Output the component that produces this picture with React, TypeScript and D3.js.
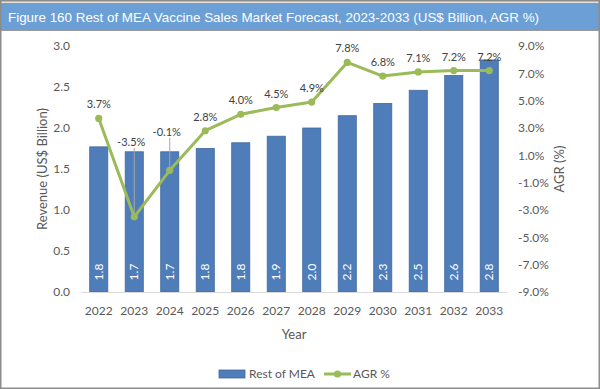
import React, { useEffect, useRef } from 'react';
import * as d3 from 'd3';

const years = ['2022', '2023', '2024', '2025', '2026', '2027', '2028', '2029', '2030', '2031', '2032', '2033'];
const revenue = [1.77, 1.71, 1.71, 1.75, 1.82, 1.9, 2.0, 2.15, 2.3, 2.46, 2.64, 2.83];
const revenueLabels = ['1.8', '1.7', '1.7', '1.8', '1.8', '1.9', '2.0', '2.2', '2.3', '2.5', '2.6', '2.8'];
const agr = [3.7, -3.5, -0.1, 2.8, 4.0, 4.5, 4.9, 7.8, 6.8, 7.1, 7.2, 7.2];
const leftTicks = [0, 0.5, 1, 1.5, 2, 2.5, 3];
const rightTicks = [-9, -7, -5, -3, -1, 1, 3, 5, 7, 9];

// labels pulled up with a leader line (Excel style)
const leaderLabelY: Record<string, number> = { '2023': 142, '2024': 132 };

const W = 600, H = 389;
const FONT = 'Lato, "Open Sans", sans-serif';
const BAR = '#4f7dba';
const LINE = '#9bbb59';
const TEXT = '#595959';

const pct = (d: number) => d.toFixed(1) + '%';

const App = () => {
  const ref = useRef<SVGSVGElement>(null);

  useEffect(() => {
    const svg = d3.select(ref.current);
    svg.selectAll('*').remove();

    const plot = { left: 81, right: 507, top: 46, bottom: 292 };

    const x = d3.scaleBand()
      .domain(years)
      .range([plot.left, plot.right])
      .paddingInner(0.49)
      .paddingOuter(0.245);

    const y = d3.scaleLinear().domain([0, 3]).range([plot.bottom, plot.top]);
    const y2 = d3.scaleLinear().domain([-9, 9]).range([plot.bottom, plot.top]);

    // frame and title bar
    svg.append('rect')
      .attr('x', 0).attr('y', 0).attr('width', W).attr('height', H)
      .attr('fill', '#fff');
    svg.append('rect')
      .attr('x', 0).attr('y', 0).attr('width', W).attr('height', 3)
      .attr('fill', '#e6e2da');
    svg.append('rect')
      .attr('x', 0).attr('y', 3).attr('width', W).attr('height', 27)
      .attr('fill', '#6b9fd6');
    svg.append('line')
      .attr('x1', 0).attr('x2', W).attr('y1', 30.5).attr('y2', 30.5)
      .attr('stroke', '#9a9a9a');
    svg.append('rect')
      .attr('x', 0.75).attr('y', 0.75).attr('width', W - 1.5).attr('height', H - 1.5)
      .attr('fill', 'none').attr('stroke', '#8c8c8c').attr('stroke-width', 1.5);
    svg.append('text')
      .attr('x', 8).attr('y', 22)
      .attr('fill', '#fff')
      .attr('font-family', '"Liberation Sans", Arial, sans-serif')
      .attr('font-size', 13.5)
      .attr('textLength', 531)
      .attr('lengthAdjust', 'spacingAndGlyphs')
      .text('Figure 160 Rest of MEA Vaccine Sales Market Forecast, 2023-2033 (US$ Billion, AGR %)');

    // bars
    svg.append('g')
      .selectAll('rect')
      .data(revenue)
      .join('rect')
        .attr('x', (d, i) => x(years[i])!)
        .attr('y', d => y(d))
        .attr('width', x.bandwidth())
        .attr('height', d => y(0) - y(d))
        .attr('fill', BAR)
        .attr('stroke', '#41699f')
        .attr('stroke-width', 0.8);

    svg.append('g')
      .selectAll('text')
      .data(revenueLabels)
      .join('text')
        .attr('transform', (d, i) => `translate(${x(years[i])! + x.bandwidth() / 2 + 4},${272}) rotate(-90)`)
        .attr('text-anchor', 'middle')
        .attr('fill', '#fff')
        .attr('font-family', FONT)
        .attr('font-size', 12)
        .text(d => d);

    // x axis
    const xAxis = svg.append('g')
      .attr('transform', `translate(0,${plot.bottom})`)
      .call(d3.axisBottom(x).tickSize(0).tickPadding(14));
    xAxis.select('.domain').attr('stroke', '#d9d9d9');
    xAxis.selectAll('text').attr('fill', TEXT).attr('font-family', FONT).attr('font-size', 12);

    const yAxis = svg.append('g')
      .attr('transform', `translate(70,0)`)
      .call(d3.axisLeft(y).tickValues(leftTicks).tickFormat(d3.format('.1f')).tickSize(0).tickPadding(0));
    yAxis.select('.domain').remove();
    yAxis.selectAll('text').attr('fill', TEXT).attr('font-family', FONT).attr('font-size', 12);

    const y2Axis = svg.append('g')
      .attr('transform', `translate(518,0)`)
      .call(d3.axisRight(y2).tickValues(rightTicks).tickFormat(d => pct(d as number)).tickSize(0).tickPadding(0));
    y2Axis.select('.domain').remove();
    y2Axis.selectAll('text').attr('fill', TEXT).attr('font-family', FONT).attr('font-size', 12);

    // axis titles
    svg.append('text')
      .attr('transform', `translate(47,${(plot.top + plot.bottom) / 2}) rotate(-90)`)
      .attr('text-anchor', 'middle')
      .attr('fill', TEXT).attr('font-family', FONT).attr('font-size', 13)
      .text('Revenue (US$ Billion)');
    svg.append('text')
      .attr('transform', `translate(564,${(plot.top + plot.bottom) / 2}) rotate(-90)`)
      .attr('text-anchor', 'middle')
      .attr('fill', TEXT).attr('font-family', FONT).attr('font-size', 13)
      .text('AGR (%)');
    svg.append('text')
      .attr('x', (plot.left + plot.right) / 2).attr('y', 339)
      .attr('text-anchor', 'middle')
      .attr('fill', TEXT).attr('font-family', FONT).attr('font-size', 13)
      .text('Year');

    // AGR line
    const cx = (i: number) => x(years[i])! + x.bandwidth() / 2;
    const line = d3.line<number>().x((d, i) => cx(i)).y(d => y2(d));

    // leader lines
    svg.append('g')
      .selectAll('line')
      .data(years.filter(yr => leaderLabelY[yr] !== undefined))
      .join('line')
        .attr('x1', yr => cx(years.indexOf(yr)))
        .attr('x2', yr => cx(years.indexOf(yr)))
        .attr('y1', yr => leaderLabelY[yr] + 6)
        .attr('y2', yr => y2(agr[years.indexOf(yr)]))
        .attr('stroke', '#a6a6a6')
        .attr('stroke-width', 1);

    svg.append('path')
      .datum(agr)
      .attr('d', line)
      .attr('fill', 'none')
      .attr('stroke', LINE)
      .attr('stroke-width', 3)
      .attr('stroke-linejoin', 'round');

    svg.append('g')
      .selectAll('circle')
      .data(agr)
      .join('circle')
        .attr('cx', (d, i) => cx(i))
        .attr('cy', d => y2(d))
        .attr('r', 3.6)
        .attr('fill', LINE);

    svg.append('g')
      .selectAll('text')
      .data(agr)
      .join('text')
        .attr('x', (d, i) => cx(i) - (leaderLabelY[years[i]] !== undefined ? 3 : 0))
        .attr('y', (d, i) => (leaderLabelY[years[i]] ?? y2(d) - 14) + 4)
        .attr('text-anchor', 'middle')
        .attr('fill', '#404040')
        .attr('font-family', FONT)
        .attr('font-size', 11)
        .text(d => pct(d));

    // legend
    const lg = svg.append('g').attr('transform', 'translate(0,374)');
    lg.append('rect')
      .attr('x', 219).attr('y', -4).attr('width', 26).attr('height', 8)
      .attr('fill', BAR).attr('stroke', '#41699f').attr('stroke-width', 0.8);
    lg.append('text')
      .attr('x', 249).attr('y', 4)
      .attr('fill', TEXT).attr('font-family', FONT).attr('font-size', 12)
      .text('Rest of MEA');
    lg.append('line')
      .attr('x1', 324).attr('x2', 351).attr('y1', 0).attr('y2', 0)
      .attr('stroke', LINE).attr('stroke-width', 3);
    lg.append('circle')
      .attr('cx', 337.5).attr('cy', 0).attr('r', 3.6).attr('fill', LINE);
    lg.append('text')
      .attr('x', 353).attr('y', 4)
      .attr('fill', TEXT).attr('font-family', FONT).attr('font-size', 12)
      .text('AGR %');
  }, []);

  return (
    <svg ref={ref} width={W} height={H} style={{ position: 'absolute', left: 0, top: 0 }}></svg>
  );
};

export default App;
